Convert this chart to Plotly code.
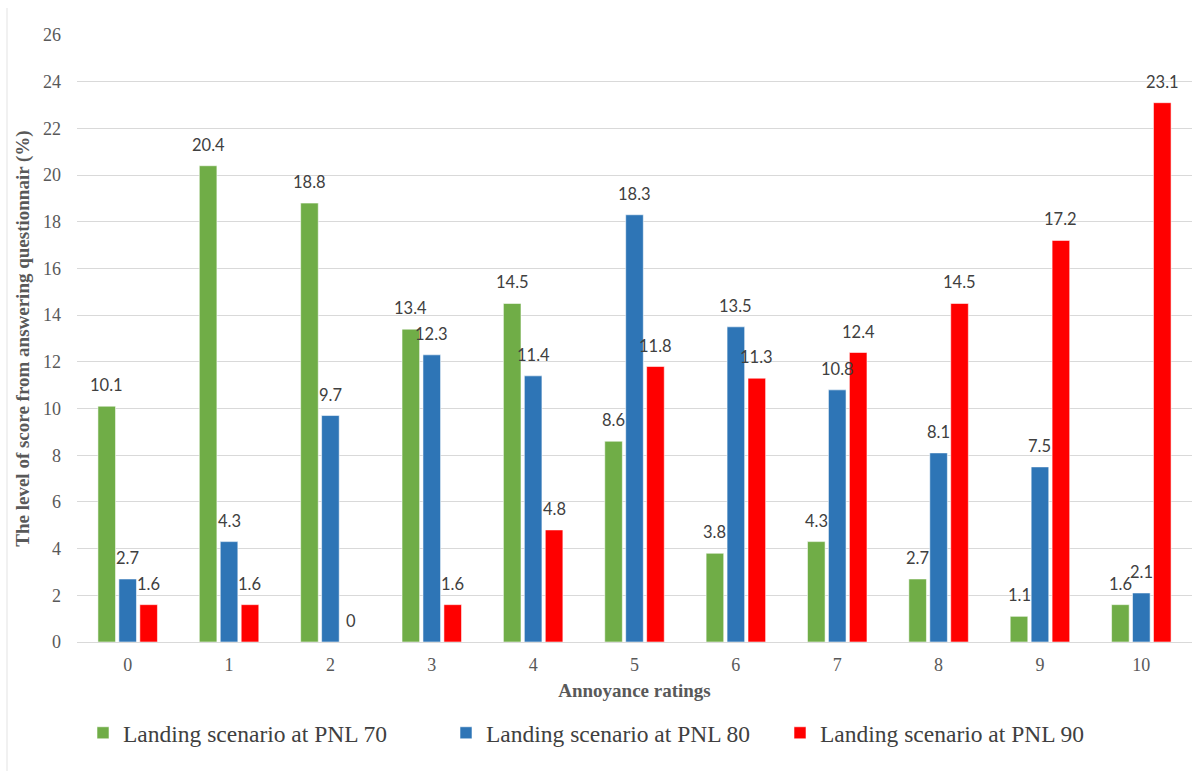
import plotly.graph_objects as go

# Annoyance rating categories (x axis)
ratings = ["0", "1", "2", "3", "4", "5", "6", "7", "8", "9", "10"]

# Score share per rating (%) for each landing scenario
pnl70 = [10.1, 20.4, 18.8, 13.4, 14.5, 8.6, 3.8, 4.3, 2.7, 1.1, 1.6]
pnl80 = [2.7, 4.3, 9.7, 12.3, 11.4, 18.3, 13.5, 10.8, 8.1, 7.5, 2.1]
pnl90 = [1.6, 1.6, 0, 1.6, 4.8, 11.8, 11.3, 12.4, 14.5, 17.2, 23.1]

series_names = [
    "Landing scenario at PNL 70",
    "Landing scenario at PNL 80",
    "Landing scenario at PNL 90",
]
series_values = [pnl70, pnl80, pnl90]
series_colors = ["#70AD47", "#2E75B6", "#FF0000"]
y_ticks = list(range(0, 27, 2))

# Figure geometry
W, H = 1200, 771
M_L, M_R, M_T, M_B = 77, 8, 35, 129
BARGAP, GROUPGAP = 0.38, 0.16
plot_w = W - M_L - M_R
plot_h = H - M_T - M_B
slot_px = plot_w / len(ratings) * (1 - BARGAP) / len(series_values)

serif = "Liberation Serif, serif"
sans = "Lato, sans-serif"

fig = go.Figure()
# one legend box per series so each entry can sit at its own position
legend_ids = ["legend2", "legend3", "legend4"]
for i, (name, vals, col) in enumerate(zip(series_names, series_values, series_colors)):
    fig.add_trace(go.Bar(
        x=ratings, y=vals, name=name,
        marker=dict(color=col, line=dict(color="rgba(255,255,255,0.55)", width=1)),
        legend=legend_ids[i],
        hoverinfo="x+y+name",
    ))

# Value labels above each bar
annotations = []
for i, vals in enumerate(series_values):
    for cat, v in zip(ratings, vals):
        annotations.append(dict(
            x=cat, y=v, xref="x", yref="y",
            text=f"{v:g}", showarrow=False,
            xshift=(i - 1) * slot_px, yshift=21,
            font=dict(family=sans, size=16.5, color="#404040"),
        ))

legend_y = -(733 - (H - M_B)) / plot_h
legend_px = [97, 460, 794]


def legend_box(px):
    return dict(
        orientation="h", yanchor="middle", xanchor="left",
        x=(px - 14 - M_L) / plot_w, y=legend_y,
        font=dict(family=serif, size=23.5, color="#404040"),
        bgcolor="rgba(0,0,0,0)", borderwidth=0,
    )


fig.update_layout(
    width=W, height=H,
    margin=dict(l=M_L, r=M_R, t=M_T, b=M_B),
    paper_bgcolor="white", plot_bgcolor="white",
    barmode="group", bargap=BARGAP, bargroupgap=GROUPGAP,
    annotations=annotations,
    legend2=legend_box(legend_px[0]),
    legend3=legend_box(legend_px[1]),
    legend4=legend_box(legend_px[2]),
    xaxis=dict(
        type="category",
        tickfont=dict(family=serif, size=18, color="#595959"),
        ticklabelstandoff=10,
        showgrid=False, showline=False, zeroline=False,
        title=dict(text="<b>Annoyance ratings</b>",
                   font=dict(family=serif, size=19, color="#595959"),
                   standoff=9),
    ),
    yaxis=dict(
        range=[0, 26], tickvals=y_ticks,
        tickfont=dict(family=serif, size=18, color="#595959"),
        ticklabelstandoff=15,
        showgrid=True, gridcolor="#D9D9D9", gridwidth=1,
        zeroline=True, zerolinecolor="#D9D9D9", zerolinewidth=1,
        showline=False,
        title=dict(text="<b>The level of score from answering questionnair (%)</b>",
                   font=dict(family=serif, size=19, color="#595959"),
                   standoff=8),
    ),
    shapes=[dict(
        type="line", xref="paper", yref="paper",
        x0=(7 - M_L) / plot_w, x1=(7 - M_L) / plot_w,
        y0=-M_B / plot_h, y1=(H - M_B - 8) / plot_h,
        line=dict(color="#E3E3E3", width=1),
    )],
)

fig.write_html("out.html")
